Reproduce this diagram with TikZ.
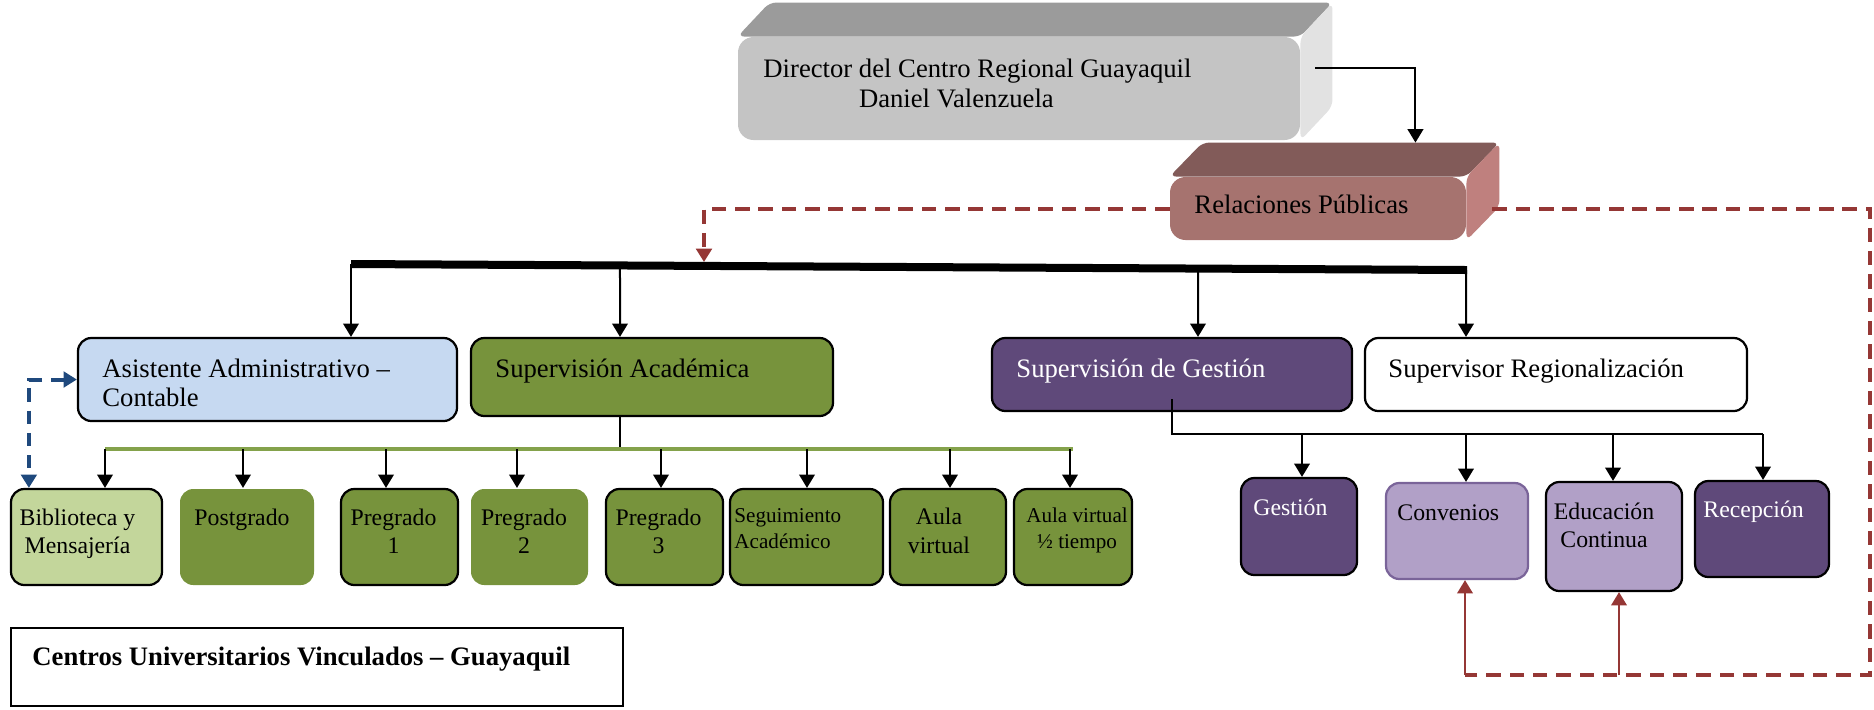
\documentclass[tikz,border=0pt]{standalone}
\usepackage{fontspec}
\setmainfont{Liberation Serif}
\usetikzlibrary{arrows.meta,calc,fit,positioning}

\definecolor{dirfront}{HTML}{C4C4C4}
\definecolor{dirtop}{HTML}{9B9B9B}
\definecolor{dirside}{HTML}{E2E2E2}
\definecolor{relfront}{HTML}{A6736F}
\definecolor{reltop}{HTML}{825B59}
\definecolor{relside}{HTML}{BF807E}
\definecolor{rpred}{HTML}{953735}
\definecolor{asblue}{HTML}{C6D9F1}
\definecolor{asdark}{HTML}{1F497D}
\definecolor{acolive}{HTML}{77933C}
\definecolor{palegreen}{HTML}{C3D69B}
\definecolor{lineolive}{HTML}{84A24B}
\definecolor{gestpurple}{HTML}{5F497A}
\definecolor{lavender}{HTML}{B1A0C7}
\definecolor{lavedge}{HTML}{7A6499}

\tikzset{
  box/.style={draw=black, line width=1pt, rounded corners=6pt, inner sep=0pt},
  flat box/.style={box, draw=none},
  front/.style={rounded corners=7pt, inner sep=0pt},
  conn/.style={line width=0.9pt},
  reddash/.style={draw=rpred, line width=1.8pt, dash pattern=on 6.5pt off 4pt},
  redline/.style={draw=rpred, line width=1pt},
  bluedash/.style={draw=asdark, line width=1.8pt, dash pattern=on 6pt off 4pt},
  txt/.style={inner sep=0pt, anchor=base west, align=left, font=\fontsize{12}{13}\selectfont},
  txt mid/.style={txt, font=\fontsize{10.7}{12.6}\selectfont},
  txt small/.style={txt, font=\fontsize{9.5}{11.7}\selectfont},
}

\begin{document}
\begin{tikzpicture}[x=0.45pt, y=-0.45pt, >={Triangle[width=7pt,length=6pt]}]
\useasboundingbox (0,0) rectangle (1874,709);

% director and public relations (3d blocks)
\node[front, fill=dirfront, fit={(738,37) (1300,140)}] (dir) {};
\fill[dirtop, rounded corners=3pt] (dir.north west) -- ++(32,-34) -- ($(dir.north east)+(32,-34)$) -- (dir.north east) -- cycle;
\fill[dirside, rounded corners=3pt] (dir.north east) -- ++(32,-34) -- ($(dir.south east)+(32,-34)$) -- (dir.south east) -- cycle;
\node[txt, font=\fontsize{12}{13.5}\selectfont] (dir-t) at (763,107) {Director del Centro Regional Guayaquil\\\hspace*{43pt}Daniel Valenzuela};

\node[front, fill=relfront, fit={(1170,177) (1466,240)}] (rel) {};
\fill[reltop, rounded corners=3pt] (rel.north west) -- ++(33,-34) -- ($(rel.north east)+(33,-34)$) -- (rel.north east) -- cycle;
\fill[relside, rounded corners=3pt] (rel.north east) -- ++(33,-34) -- ($(rel.south east)+(33,-34)$) -- (rel.south east) -- cycle;
\node[txt] (rel-t) at (1194,213) {Relaciones Públicas};

% second level
\node[box, fill=asblue, fit={(78,338) (457,421)}] (asist) {};
\node[txt] (asist-t) at (102,406) {Asistente Administrativo –\\Contable};
\node[box, fill=acolive, fit={(471,338) (833,416)}] (supac) {};
\node[txt] (supac-t) at (495,377) {Supervisión Académica};
\node[box, fill=gestpurple, fit={(992,338) (1352,411)}] (supg) {};
\node[txt, text=white] (supg-t) at (1016,377) {Supervisión de Gestión};
\node[box, fill=white, fit={(1365,338) (1747,411)}] (supr) {};
\node[txt] (supr-t) at (1388,377) {Supervisor Regionalización};

% academic units
\node[box, fill=palegreen, fit={(11,489) (162,585)}] (bib) {};
\node[txt mid, anchor=base, align=center] (bib-t) at (77.5,553) {Biblioteca y\\Mensajería};
\node[flat box, fill=acolive, fit={(180,489) (314,585)}] (postg) {};
\node[txt mid] (postg-t) at (194,525) {Postgrado};
\node[box, fill=acolive, fit={(341,489) (458,585)}] (preg1) {};
\node[txt mid, anchor=base, align=center] (preg1-t) at (393.5,553) {Pregrado\\1};
\node[flat box, fill=acolive, fit={(471,489) (588,585)}] (preg2) {};
\node[txt mid, anchor=base, align=center] (preg2-t) at (524,553) {Pregrado\\2};
\node[box, fill=acolive, fit={(606,489) (723,585)}] (preg3) {};
\node[txt mid, anchor=base, align=center] (preg3-t) at (658.5,553) {Pregrado\\3};
\node[box, fill=acolive, fit={(730,489) (883,585)}] (seg) {};
\node[txt small] (seg-t) at (734,548) {Seguimiento\\Académico};
\node[box, fill=acolive, fit={(890,489) (1006,585)}] (aula) {};
\node[txt mid, anchor=base, align=center, font=\fontsize{10.7}{13}\selectfont] (aula-t) at (939,553) {Aula\\virtual};
\node[box, fill=acolive, fit={(1014,489) (1132,585)}] (aulam) {};
\node[txt small, anchor=base, align=center] (aulam-t) at (1077,548) {Aula virtual\\½ tiempo};

% management units
\node[box, fill=gestpurple, fit={(1241,478) (1357,575)}] (gest) {};
\node[txt mid, text=white] (gest-t) at (1253,515) {Gestión};
\node[box, draw=lavedge, fill=lavender, fit={(1386,483) (1528,579)}] (conv) {};
\node[txt mid] (conv-t) at (1397,520) {Convenios};
\node[box, fill=lavender, fit={(1546,482) (1682,591)}] (edu) {};
\node[txt mid, anchor=base, align=center] (edu-t) at (1604,547) {Educación\\Continua};
\node[box, fill=gestpurple, fit={(1695,481) (1829,577)}] (recep) {};
\node[txt mid, text=white] (recep-t) at (1703,517) {Recepción};

\node[draw=black, line width=1pt, inner sep=0pt, fit={(11,628) (623,706)}] (cuv) {};
\node[txt, font=\bfseries\fontsize{12}{13}\selectfont] (cuv-t) at (32,665) {Centros Universitarios Vinculados – Guayaquil};

% connectors
\coordinate (bar-l) at (351,264);
\coordinate (bar-r) at (1467,270);
\coordinate (bar-in) at (704,262);
\coordinate (gl-l) at (105,449);
\coordinate (gl-r) at (1073,449);
\coordinate (sg-foot) at ($(supg.south)+(0,-13)$);
\coordinate (sg-r) at (1763,434);
\coordinate (loop-se) at (1870,675);
\coordinate (loop-sw) at (1465,675);
\coordinate (loop-mid) at (1619,675);

\draw[conn, ->] ($(dir.north east)+(15,31)$) -| ($(rel.north east)+(-51,-34)$);
\draw[conn] ($(dir.south)+(-26,5)$) -- ($(dir.south)+(-26,5)$ |- rel.west);
\draw[reddash, ->] (rel.west) -| (bar-in);
\draw[reddash] ($(rel.east)+(26,0)$) -| (loop-se) -- (loop-sw);
\draw[redline, ->] (loop-sw) -- (loop-sw |- conv.south);
\draw[redline, ->] (loop-mid) -- (loop-mid |- edu.south);

\draw[line width=3.6pt] (bar-l) -- (bar-r);
\foreach \x/\b in {351/asist, 620/supac, 1198/supg, 1466/supr}
  \draw[conn, ->] ($(bar-l)!{(\x-351)/1116}!(bar-r)$) -- (\x,0 |- \b.north);

\draw[bluedash, <->] (asist.west) -| ($(bib.north west)+(19,0)$);

\draw[conn] (620,0 |- supac.south) -- (620,0 |- gl-l);
\draw[draw=lineolive, line width=1.5pt] (gl-l) -- (gl-r);
\foreach \x/\b in {105/bib, 243/postg, 386/preg1, 517/preg2, 661/preg3, 807/seg, 950/aula, 1070/aulam}
  \draw[conn, ->] (\x,0 |- gl-l) -- (\x,0 |- \b.north);

\draw[conn] (sg-foot) |- (sg-r);
\foreach \x/\b in {1302/gest, 1466/conv, 1613/edu, 1763/recep}
  \draw[conn, ->] (\x,0 |- sg-r) -- (\x,0 |- \b.north);

\end{tikzpicture}
\end{document}
